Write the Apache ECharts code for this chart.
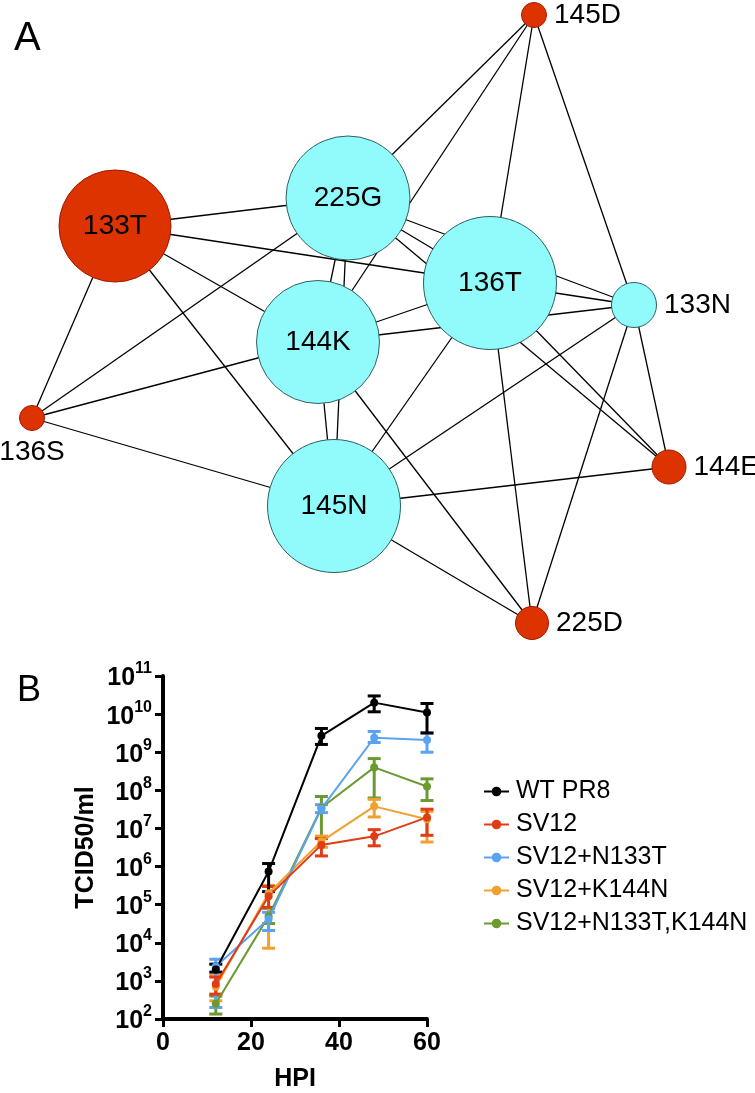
<!DOCTYPE html>
<html>
<head>
<meta charset="utf-8">
<script src="https://cdn.jsdelivr.net/npm/echarts@6/dist/echarts.min.js"></script>
<style>html,body{margin:0;padding:0;background:#fff}#c{width:755px;height:1093px}</style>
</head>
<body>
<div id="c"></div>
<script>
// ---------- Panel A: network ----------
const nodeNames = ['145D','133T','225G','136T','133N','144K','136S','145N','144E','225D'];
const nodeX     = [534, 115, 348, 490, 634, 318, 32, 334, 669, 532];
const nodeY     = [15, 226, 198, 283, 305, 342, 418, 506, 467, 623];
const nodeSize  = [25, 112, 124, 133, 45, 123, 25, 133, 34, 33];
const nodeGroup = ['red','red','cyan','cyan','cyan','cyan','red','cyan','red','red'];
const edgeSource = ['145D','145D','145D','145D','133T','133T','133T','133T','133T','136S','136S','136S','225G','225G','225G','225G','225G','144K','144K','144K','144K','136T','136T','136T','136T','133N','133N','133N','145N','145N'];
const edgeTarget = ['225G','144K','136T','133N','225G','136T','144K','145N','136S','225G','144K','145N','136T','144K','145N','133N','144E','136T','145N','225D','133N','133N','145N','225D','144E','145N','225D','144E','144E','225D'];

// ---------- Panel B: growth curves ----------
const hpi = [12, 24, 36, 48, 60];
const seriesNames = ['WT PR8','SV12','SV12+N133T','SV12+K144N','SV12+N133T,K144N'];
const wtMean = [2.0e3, 7.4e5, 2.7e9, 2.0e10, 1.1e10];
const wtLow  = [1.7e3, 2.2e5, 1.6e9, 1.15e10, 3.2e9];
const wtHigh = [2.75e3, 1.2e6, 4.2e9, 3.0e10, 1.9e10];
const sv12Mean = [8.3e2, 1.66e5, 3.7e6, 6.2e6, 1.95e7];
const sv12Low  = [4.5e2, 8.5e4, 1.9e6, 3.5e6, 6.6e6];
const sv12High = [1.26e3, 3.0e5, 5.4e6, 9.3e6, 3.2e7];
const n133Mean = [2.4e3, 4.2e4, 3.3e7, 2.4e9, 2.1e9];
const n133Low  = [2.0e2, 2.1e4, 2.6e7, 1.8e9, 1.0e9];
const n133High = [3.7e3, 6.3e4, 4.2e7, 3.5e9, 3.2e9];
const k144Mean = [7.0e2, 2.0e5, 4.6e6, 3.8e7, 1.75e7];
const k144Low  = [3.0e2, 7.2e3, 3.2e6, 2.0e7, 4.4e6];
const k144High = [1.4e3, 3.2e5, 6.3e6, 5.8e7, 2.8e7];
const dblMean = [2.5e2, 5.0e4, 3.5e7, 4.0e8, 1.26e8];
const dblLow  = [1.35e2, 3.2e4, 5.6e6, 6.3e7, 5.4e7];
const dblHigh = [4.0e2, 8.0e4, 6.9e7, 6.8e8, 2.0e8];
const yTickExp = [2,3,4,5,6,7,8,9,10,11];

const FONT = "'Liberation Sans', Arial, Helvetica, sans-serif";
const colors = {'WT PR8':'#000000','SV12':'#e03c16','SV12+N133T':'#5aa2f2','SV12+K144N':'#f0a030','SV12+N133T,K144N':'#6a9a30'};
const groups = [
  {name:'WT PR8', mean:wtMean, low:wtLow, high:wtHigh},
  {name:'SV12', mean:sv12Mean, low:sv12Low, high:sv12High},
  {name:'SV12+N133T', mean:n133Mean, low:n133Low, high:n133High},
  {name:'SV12+K144N', mean:k144Mean, low:k144Low, high:k144High},
  {name:'SV12+N133T,K144N', mean:dblMean, low:dblLow, high:dblHigh}
];
const drawOrder = ['SV12+N133T,K144N','SV12+K144N','SV12+N133T','SV12','WT PR8'];

const nodeFill = {red:'#dd3300', cyan:'#91fbfc'};
const nodeBorder = {red:'#a01a00', cyan:'#2e6060'};
const outsideLabel = {'136S':'bottom'};

const graphData = nodeNames.map((n,i)=>{
  const small = nodeSize[i] < 60;
  return {
    name:n, value:[nodeX[i], nodeY[i]], symbolSize: nodeSize[i],
    itemStyle:{color:nodeFill[nodeGroup[i]], borderColor:nodeBorder[nodeGroup[i]], borderWidth:1},
    label:{show:true, position: small ? (outsideLabel[n] || 'right') : 'inside', distance: small ? 7 : 0,
      color:'#000', fontFamily:FONT, fontSize:28}
  };
});
const graphLinks = edgeSource.map((s,i)=>({source:s, target:edgeTarget[i]}));

const series = [{
  type:'graph', coordinateSystem:'cartesian2d', xAxisIndex:1, yAxisIndex:1,
  data:graphData, links:graphLinks, roam:false, silent:true,
  lineStyle:{color:'#000', width:1.3, opacity:1, curveness:0},
  emphasis:{disabled:true}, animation:false, z:2
}];

drawOrder.forEach(name=>{
  const g = groups.find(x=>x.name===name);
  const c = colors[name];
  series.push({
    type:'custom', name:'err '+name, xAxisIndex:0, yAxisIndex:0,
    data: hpi.map((h,i)=>[h, g.low[i], g.high[i]]),
    encode:{x:0, y:[1,2]},
    renderItem:(params, api)=>{
      const xv = api.value(0);
      const pLo = api.coord([xv, api.value(1)]);
      const pHi = api.coord([xv, api.value(2)]);
      const hw = 6.5;
      const st = {stroke:c, lineWidth:3, fill:null};
      return {type:'group', children:[
        {type:'line', shape:{x1:pLo[0], y1:pLo[1], x2:pHi[0], y2:pHi[1]}, style:st},
        {type:'line', shape:{x1:pHi[0]-hw, y1:pHi[1], x2:pHi[0]+hw, y2:pHi[1]}, style:st},
        {type:'line', shape:{x1:pLo[0]-hw, y1:pLo[1], x2:pLo[0]+hw, y2:pLo[1]}, style:st}
      ]};
    },
    silent:true, animation:false
  });
  series.push({
    type:'line', name:name, xAxisIndex:0, yAxisIndex:0,
    data: hpi.map((h,i)=>[h, g.mean[i]]),
    symbol:'circle', symbolSize:8, showSymbol:true,
    lineStyle:{color:c, width:2}, itemStyle:{color:c},
    silent:true, animation:false
  });
});

const option = {
  backgroundColor:'#fff',
  animation:false,
  title:[
    {text:'A', left:9, top:14, textStyle:{fontFamily:FONT, fontSize:40, fontWeight:'normal', color:'#000'}},
    {text:'B', left:12, top:668, textStyle:{fontFamily:FONT, fontSize:36, fontWeight:'normal', color:'#000'}}
  ],
  grid:[
    {left:163, top:676, width:264, height:344, containLabel:false},
    {left:0, top:0, width:755, height:1093, containLabel:false}
  ],
  legend:{
    orient:'vertical', left:478, top:774, itemWidth:25, itemHeight:12, itemGap:8,
    data: seriesNames,
    textStyle:{fontFamily:FONT, fontSize:25, color:'#000', padding:[0,0,0,2], lineHeight:25},
    selectedMode:false
  },
  xAxis:[
    {type:'value', gridIndex:0, min:0, max:60, interval:20,
     name:'HPI', nameLocation:'middle', nameGap:48,
     nameTextStyle:{fontFamily:FONT, fontSize:25, fontWeight:'bold', color:'#000'},
     axisLine:{lineStyle:{color:'#000', width:4}},
     axisTick:{length:8, lineStyle:{color:'#000', width:3}},
     axisLabel:{fontFamily:FONT, fontSize:25, fontWeight:'bold', color:'#000', margin:12},
     splitLine:{show:false}},
    {type:'value', gridIndex:1, min:0, max:755, show:false}
  ],
  yAxis:[
    {type:'log', gridIndex:0, logBase:10, min:1e2, max:1e11,
     name:'TCID50/ml', nameLocation:'middle', nameGap:64, nameRotate:90,
     nameTextStyle:{fontFamily:FONT, fontSize:25, fontWeight:'bold', color:'#000'},
     axisLine:{lineStyle:{color:'#000', width:4}},
     axisTick:{length:8, lineStyle:{color:'#000', width:3}},
     axisLabel:{margin:11, formatter:(v)=>{
        const e = Math.round(Math.log10(v));
        return yTickExp.indexOf(e) >= 0 ? '{b|10}{s|' + e + '}' : '';
      },
      rich:{
        b:{fontFamily:FONT, fontSize:25, fontWeight:'bold', color:'#000', lineHeight:30, verticalAlign:'bottom'},
        s:{fontFamily:FONT, fontSize:16, fontWeight:'bold', color:'#000', lineHeight:16, verticalAlign:'top'}
      }},
     splitLine:{show:false}},
    {type:'value', gridIndex:1, min:0, max:1093, inverse:true, show:false}
  ],
  series: series
};

const chart = echarts.init(document.getElementById('c'), null, {renderer:'canvas'});
chart.setOption(option);
</script>
</body>
</html>
